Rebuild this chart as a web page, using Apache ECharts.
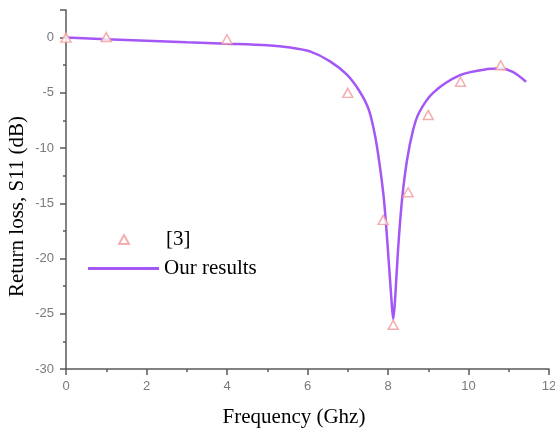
<!DOCTYPE html>
<html>
<head>
<meta charset="utf-8">
<script src="https://cdn.jsdelivr.net/npm/echarts@6/dist/echarts.min.js"></script>
<style>
html,body{margin:0;padding:0;background:#fff;}
#chart{width:555px;height:431px;}
</style>
</head>
<body>
<div id="chart"></div>
<script>
// Reference [3] measured points (frequency GHz, S11 dB)
const refFreq = [0, 1.0, 4.0, 7.0, 7.88, 8.13, 8.5, 9.0, 9.8, 10.8];
const refS11  = [0, 0.05, -0.15, -5.0, -16.5, -26.0, -14.0, -7.0, -4.0, -2.5];

// Our results curve (frequency GHz, S11 dB)
const oursFreq = [0, 1, 2, 3, 4, 5, 5.57, 6.06, 6.56, 6.98, 7.3, 7.52, 7.68, 7.80, 7.90, 8.0, 8.087, 8.13, 8.174, 8.248, 8.348, 8.472, 8.621, 8.77, 9.12, 9.79, 10.46, 10.78, 11.1, 11.43];
const oursS11  = [0, -0.15, -0.28, -0.42, -0.55, -0.7, -0.9, -1.25, -2.15, -3.36, -4.9, -6.5, -8.9, -11.7, -14.7, -19.3, -23.8, -25.5, -23.8, -19.3, -14.7, -11.1, -8.4, -6.8, -5.0, -3.4, -2.85, -2.8, -3.1, -4.0];

const xTicks = [0, 2, 4, 6, 8, 10, 12];
const yTicks = [-30, -25, -20, -15, -10, -5, 0];

const seriesNames = ['[3]', 'Our results'];

const zip = (a, b) => a.map((v, i) => [v, b[i]]);

const chart = echarts.init(document.getElementById('chart'), null, {renderer: 'canvas'});
const serif = '"Liberation Serif", "Times New Roman", serif';
const axisCommon = {
  axisLine: {show: true, onZero: false, lineStyle: {color: '#5a5a5a', width: 1.5}},
  axisTick: {show: true, inside: false, length: 6, lineStyle: {color: '#5a5a5a', width: 1.5}},
  minorTick: {show: true, splitNumber: 2, length: 3, lineStyle: {color: '#5a5a5a', width: 1.5}},
  splitLine: {show: false},
  nameMoveOverlap: false,
  axisLabel: {color: '#7a7a7a', fontSize: 13, fontFamily: 'Arial, "Liberation Sans", sans-serif'}
};
chart.setOption({
  animation: false,
  backgroundColor: '#ffffff',
  grid: {left: 66, right: 6, top: 10, bottom: 62, containLabel: false, outerBoundsMode: 'none'},
  xAxis: Object.assign({}, axisCommon, {
    type: 'value', min: xTicks[0], max: xTicks[xTicks.length - 1], interval: 2,
    name: 'Frequency (Ghz)', nameLocation: 'middle', nameGap: 38,
    nameTextStyle: {fontFamily: serif, fontSize: 21, color: '#000', padding: [0, 27, 0, 0]},
    axisLabel: Object.assign({}, axisCommon.axisLabel, {margin: 11})
  }),
  yAxis: Object.assign({}, axisCommon, {
    type: 'value', min: yTicks[0], max: 2.5, interval: 5,
    name: 'Return loss, S11 (dB)', nameLocation: 'middle', nameGap: 38,
    nameTextStyle: {fontFamily: serif, fontSize: 21, color: '#000', padding: [0, 34, 0, 0]},
    axisLabel: Object.assign({}, axisCommon.axisLabel, {margin: 12, showMaxLabel: false})
  }),
  legend: [
    {
      data: [seriesNames[0]], left: 118, top: 229, orient: 'vertical', padding: 0,
      itemWidth: 10, itemHeight: 9,
      textStyle: {fontFamily: serif, fontSize: 21, color: '#000', padding: [0, 0, 0, 32]}
    },
    {
      data: [{name: seriesNames[1], icon: 'rect'}], left: 88, top: 258, orient: 'vertical', padding: 0,
      itemWidth: 71, itemHeight: 3,
      textStyle: {fontFamily: serif, fontSize: 21, color: '#000'}
    }
  ],
  series: [
    {
      name: seriesNames[0], type: 'scatter', data: zip(refFreq, refS11),
      symbol: 'triangle', symbolSize: [10, 9], z: 3,
      itemStyle: {color: '#ffffff', borderColor: '#f39a9a', borderWidth: 1.5}
    },
    {
      name: seriesNames[1], type: 'line', data: zip(oursFreq, oursS11),
      symbol: 'none', smooth: 0.3, z: 2,
      lineStyle: {color: '#a457f5', width: 2.5},
      itemStyle: {color: '#a457f5'}
    }
  ]
});
</script>
</body>
</html>
